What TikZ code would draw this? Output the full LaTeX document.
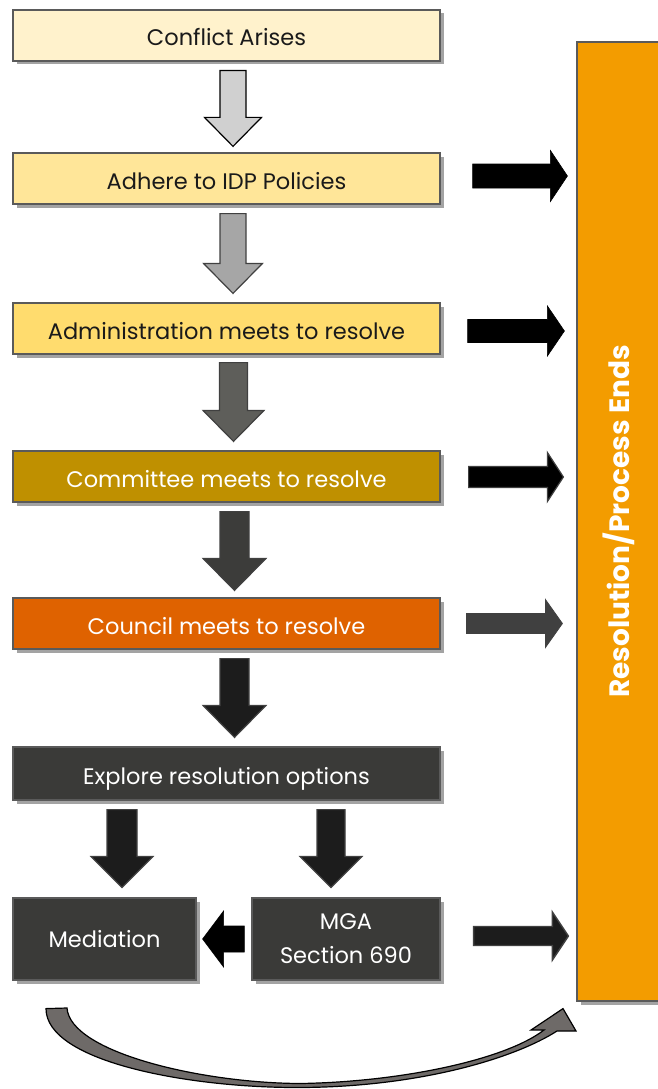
\documentclass[tikz,border=0pt]{standalone}
\usepackage{fontspec}
\setmainfont{Poppins}
\usetikzlibrary{shadows,calc}
\definecolor{cA}{HTML}{FFF2CC}
\definecolor{cB}{HTML}{FFE699}
\definecolor{cC}{HTML}{FFDC6E}
\definecolor{cD}{HTML}{BF9000}
\definecolor{cE}{HTML}{DF6200}
\definecolor{cF}{HTML}{3A3A38}
\definecolor{cR}{HTML}{F39C00}
\definecolor{boxline}{HTML}{5A5A5A}
\definecolor{shad}{HTML}{8C8C8C}
\definecolor{txt}{HTML}{1A1A1A}
\definecolor{aA}{HTML}{D0D0D0}
\definecolor{aB}{HTML}{A6A6A6}
\definecolor{aC}{HTML}{5E5E5A}
\definecolor{aD}{HTML}{3C3C3A}
\definecolor{aE}{HTML}{1C1C1C}
\definecolor{aLine}{HTML}{404040}
\definecolor{curveFill}{HTML}{6E6A68}
% down block arrow: #1 start, #2 tip, #3 shaft half, #4 head half, #5 head length, #6 style
\newcommand\BlkDown[6]{%
  \path[#6] let \p1=#1, \p2=#2 in
    (\x1-#3pt,\y1) -- (\x1+#3pt,\y1) -- (\x1+#3pt,\y2+#5pt) -- (\x1+#4pt,\y2+#5pt)
    -- (\x1,\y2) -- (\x1-#4pt,\y2+#5pt) -- (\x1-#3pt,\y2+#5pt) -- cycle;}
% horizontal block arrow: #1 start, #2 tip, #3 shaft half, #4 head half, #5 head length (signed), #6 style
\newcommand\BlkHor[6]{%
  \path[#6] let \p1=#1, \p2=#2 in
    (\x1,\y2+#3pt) -- (\x2-#5pt,\y2+#3pt) -- (\x2-#5pt,\y2+#4pt) -- (\x2,\y2)
    -- (\x2-#5pt,\y2-#4pt) -- (\x2-#5pt,\y2-#3pt) -- (\x1,\y2-#3pt) -- cycle;}
\begin{document}
\begin{tikzpicture}[x=1pt,y=-1pt,
  box/.style={draw=boxline, line width=1.2pt, minimum width=427pt, minimum height=51pt,
    inner sep=0pt, font=\fontsize{22.5}{26}\selectfont,
    drop shadow={shadow xshift=3.5pt, shadow yshift=-3.5pt, fill=shad, opacity=0.8}},
  colbox/.style={box, text height=24pt, text depth=3pt},
  darktext/.style={text=txt},
  lighttext/.style={text=white},
  arrowblk/.style={fill=#1, draw=aLine, line width=1.2pt, line join=miter},
  rarrow/.style={fill=#1, draw=#1, line width=0.6pt, line join=miter}]
\useasboundingbox (0,0) rectangle (658,1089);

% right tall box
\node[box, fill=cR, minimum width=84pt, minimum height=959pt] (R) at (619,521.5) {};
\node[rotate=90, text=white, font=\bfseries\fontsize{28}{30}\selectfont] (Rt) at (R.center) {Resolution/Process Ends};

% main column
\node[colbox, fill=cA, darktext] (b1) at (226.5,35.5) {Conflict Arises};
\node[colbox, fill=cB, darktext] (b2) at (226.5,178.5) {Adhere to IDP Policies};
\node[colbox, fill=cC, darktext] (b3) at (226.5,328.5) {Administration meets to resolve};
\node[colbox, fill=cD, lighttext] (b4) at (226.5,476.5) {Committee meets to resolve};
\node[colbox, fill=cE, lighttext] (b5) at (226.5,623.5) {Council meets to resolve};
\node[colbox, fill=cF, lighttext, minimum height=53pt] (b6) at (226.5,773.5) {Explore resolution options};
\node[box, fill=cF, lighttext, minimum width=183pt, minimum height=82pt] (med) at (104.5,939) {Mediation};
\node[box, fill=cF, lighttext, minimum width=188pt, minimum height=82pt, align=center] (mga) at (346,939) {MGA\\[8pt]Section 690};

% down arrows
\BlkDown{($(b1.south)+(6.5,9)$)}{($(b2.north)+(6.5,-6)$)}{13}{28.5}{29}{fill=aA, draw=black, line width=1.2pt}
\BlkDown{($(b2.south)+(6.5,9)$)}{($(b3.north)+(6.5,-9)$)}{13}{29.5}{30}{arrowblk=aB}
\BlkDown{($(b3.south)+(7,8)$)}{($(b4.north)+(7,-9)$)}{14}{30.5}{31}{arrowblk=aC}
\BlkDown{($(b4.south)+(8,9)$)}{($(b5.north)+(8,-7)$)}{14.5}{31.5}{32}{arrowblk=aD}
\BlkDown{($(b5.south)+(8,9)$)}{($(b6.north)+(8,-9)$)}{14.5}{31.5}{32}{arrowblk=aE}
\BlkDown{($(med.north|-b6.south)+(17.5,9)$)}{($(med.north)+(17.5,-10)$)}{15}{31}{31}{arrowblk=aE}
\BlkDown{($(mga.north|-b6.south)+(-15,9)$)}{($(mga.north)+(-15,-10)$)}{14}{31}{31}{arrowblk=aE}

% left arrow between MGA and Mediation
\BlkHor{($(mga.west)+(-7,0)$)}{($(med.east)+(6,0)$)}{13}{28}{-21}{fill=black, draw=black, line width=0.6pt}

% right arrows to the resolution box
\BlkHor{($(b2.east)+(32,0)$)}{($(R.west|-b2.east)+(-9,-2.5)$)}{12}{25.5}{17}{rarrow=black}
\BlkHor{($(b3.east)+(27,0)$)}{($(R.west|-b3.east)+(-12,2.5)$)}{11.5}{25}{17}{rarrow=black}
\BlkHor{($(b4.east)+(28,0)$)}{($(R.west|-b4.east)+(-13,0.5)$)}{10.5}{24.5}{16}{fill=black, draw=aLine, line width=1.2pt, line join=miter}
\BlkHor{($(b5.east)+(26,0)$)}{($(R.west|-b5.east)+(-14,0)$)}{10}{24}{17}{fill=aLine, draw=aLine, line width=0.8pt, line join=miter}
\BlkHor{($(mga.east)+(33,0)$)}{($(R.west|-mga.east)+(-8,-3)$)}{9.5}{24}{16}{fill=aE, draw=aLine, line width=1.4pt, line join=miter}

% curved arrow from Mediation back to the resolution box
\coordinate (ctail) at ($(med.south)+(-58.5,28)$);
\coordinate (ctip) at ($(R.south)+(-56,7)$);
\path[fill=curveFill, draw=black, line width=1.2pt, line join=miter]
  (ctail) .. controls (46,1062) and (190,1088) .. (300,1087.5)
  .. controls (420,1087) and (515,1058) .. (557,1031)
  -- (576,1031) -- (ctip) -- (531,1030) -- (544,1030)
  .. controls (505,1060) and (400,1082) .. (300,1083.5)
  .. controls (200,1083) and (70,1052) .. (67,1008) -- cycle;
\end{tikzpicture}
\end{document}
